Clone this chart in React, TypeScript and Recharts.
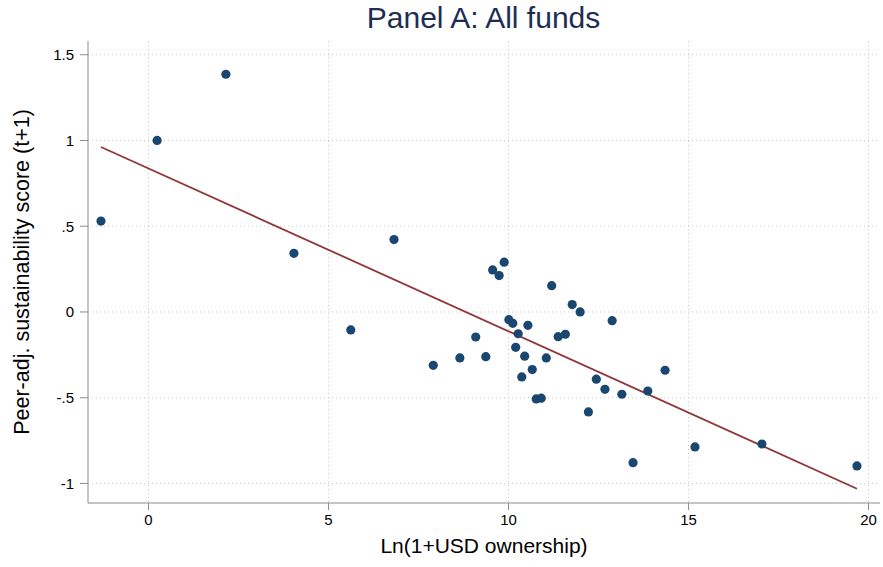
import React from 'react';
import { ComposedChart, Scatter, Line, XAxis, YAxis, CartesianGrid } from 'recharts';

// fund-level observations: ln(1+USD ownership) vs peer-adjusted score
const ownership = [
  -1.32, 0.24, 2.15, 4.04, 5.62, 6.82, 7.91, 8.65, 9.09, 9.37,
  9.56, 9.74, 9.88, 10.01, 10.12, 10.2, 10.27, 10.37, 10.45, 10.54,
  10.66, 10.77, 10.91, 11.05, 11.2, 11.38, 11.58, 11.77, 11.99, 12.22,
  12.44, 12.68, 12.88, 13.15, 13.46, 13.87, 14.35, 15.18, 17.04, 19.68,
];
const score = [
  0.53, 1.0, 1.386, 0.342, -0.105, 0.422, -0.311, -0.268, -0.146, -0.261,
  0.245, 0.212, 0.29, -0.045, -0.066, -0.206, -0.127, -0.379, -0.258, -0.078,
  -0.336, -0.507, -0.503, -0.268, 0.153, -0.144, -0.13, 0.043, 0.0, -0.583,
  -0.392, -0.451, -0.051, -0.48, -0.879, -0.461, -0.34, -0.787, -0.77, -0.898,
];

// linear fit endpoints
const fitX = [-1.32, 19.68];
const fitY = [0.962, -1.031];

const xTicks = [0, 5, 10, 15, 20];
const yTicks = [-1, -0.5, 0, 0.5, 1, 1.5];

const points = ownership.map((x, i) => ({ x, y: score[i] }));
const fit = fitX.map((x, i) => ({ x, y: fitY[i] }));

const FONT = '"Liberation Sans", Arial, sans-serif';
const NAVY = '#1a476f';

const fmtY = (v: number) => {
  if (v === 0) return '0';
  const s = String(v);
  return s.replace(/^(-?)0\./, '$1.');
};

const Dot = (props: any) => {
  const { cx, cy } = props;
  return <circle cx={cx} cy={cy} r={4.6} fill={NAVY} />;
};

export default function App() {
  return (
    <div style={{ position: 'absolute', left: 0, top: 0, width: 883, height: 567, background: '#fff', fontFamily: FONT }}>
      <div style={{ position: 'absolute', left: 0, width: 883, top: 1, textAlign: 'center', fontSize: 30, color: '#1e2d53', lineHeight: '34px', paddingLeft: 84, boxSizing: 'border-box' }}>
        Panel A: All funds
      </div>
      <ComposedChart
        width={883}
        height={567}
        margin={{ top: 41, right: 3, left: 28, bottom: 34 }}
        style={{ fontFamily: FONT }}
      >
        <CartesianGrid stroke="#c8c8c8" strokeDasharray="1 3" horizontalValues={yTicks} verticalValues={xTicks} />
        <XAxis
          type="number"
          dataKey="x"
          domain={[-1.68, 20.32]}
          ticks={xTicks}
          allowDataOverflow
          height={30}
          tickSize={7}
          tickMargin={4}
          stroke="#8c8c8c"
          tick={{ fill: '#000', fontSize: 15 }}
        />
        <YAxis
          type="number"
          dataKey="y"
          domain={[-1.114, 1.58]}
          ticks={yTicks}
          allowDataOverflow
          width={60}
          tickSize={8}
          tickMargin={6}
          stroke="#8c8c8c"
          tickFormatter={fmtY}
          tick={{ fill: '#000', fontSize: 15 }}
        />
        <Line
          data={fit}
          dataKey="y"
          type="linear"
          stroke="#90353b"
          strokeWidth={1.8}
          dot={false}
          activeDot={false}
          isAnimationActive={false}
        />
        <Scatter data={points} dataKey="y" shape={Dot} isAnimationActive={false} />
      </ComposedChart>
      <div style={{ position: 'absolute', left: 88, width: 792, top: 533, textAlign: 'center', fontSize: 21, lineHeight: '26px', color: '#000' }}>
        Ln(1+USD ownership)
      </div>
      <div
        style={{
          position: 'absolute', left: 22, top: 272, width: 500, marginLeft: -250, marginTop: -13,
          textAlign: 'center', fontSize: 21.5, lineHeight: '26px', color: '#000', transform: 'rotate(-90deg)',
        }}
      >
        Peer-adj. sustainability score (t+1)
      </div>
    </div>
  );
}
